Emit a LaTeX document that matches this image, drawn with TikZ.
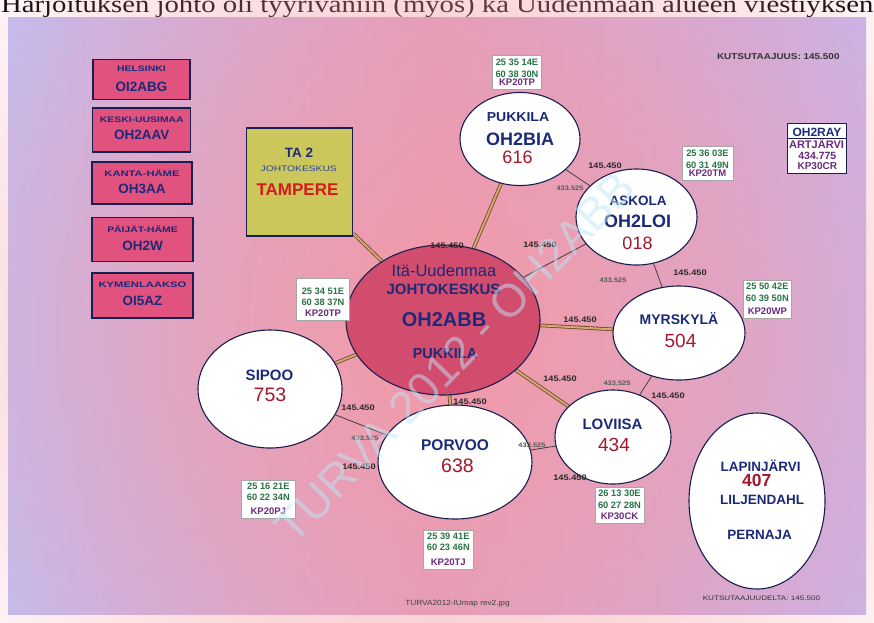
\documentclass[tikz,border=0pt]{standalone}
\usepackage{fontspec}
\setmainfont{Liberation Sans}
\newfontfamily\topserif{Liberation Serif}
\usetikzlibrary{shapes.geometric,fadings}
\pgfdeclarelayer{backdrop}
\pgfdeclarelayer{links}
\pgfsetlayers{backdrop,links,main}
\definecolor{navy}{HTML}{1B2A78}
\definecolor{bordernavy}{HTML}{1A1E4E}
\definecolor{boxpink}{HTML}{E2527E}
\definecolor{redpink}{HTML}{D24C6E}
\definecolor{olivebox}{HTML}{CBC75A}
\definecolor{tamred}{HTML}{D41C1C}
\definecolor{numred}{HTML}{A3182C}
\definecolor{coordgreen}{HTML}{2A7444}
\definecolor{kppurple}{HTML}{6A2A7E}
\definecolor{lavL}{HTML}{BEC0F7}
\definecolor{lavR}{HTML}{C6B6EE}
\definecolor{midpink}{HTML}{DDA0C6}
\definecolor{salmon}{HTML}{F59AA4}
\definecolor{linkbrown}{HTML}{6E4524}
\definecolor{linktan}{HTML}{D2AA78}
\definecolor{lbltext}{HTML}{2A2A2A}
\definecolor{wmark}{HTML}{BDE6F8}
\definecolor{subblue}{HTML}{2844A8}
\tikzfading[name=softfade, inner color=transparent!0, outer color=transparent!100]
\newcommand{\fs}[1]{\fontsize{#1}{#1}\selectfont}
\newcommand{\widen}[2]{\scalebox{#1}[1]{#2}}
\tikzset{
  region/.style={draw=bordernavy, line width=1.3pt, fill=boxpink, inner sep=0pt},
  regtitle/.style={anchor=base, inner sep=0pt, text=navy, font=\bfseries\fs{8}},
  regcall/.style={anchor=base, inner sep=0pt, text=navy, font=\bfseries\fs{13.5}},
  station/.style={ellipse, draw=bordernavy, line width=1.1pt, fill=white, inner sep=0pt},
  coordbox/.style={draw=gray!70, line width=0.6pt, fill=white, inner sep=0pt},
  cg/.style={anchor=base, inner sep=0pt, text=coordgreen, font=\bfseries\fs{9.3}},
  ck/.style={anchor=base, inner sep=0pt, text=kppurple, font=\bfseries\fs{9.5}},
  sname/.style={anchor=base, inner sep=0pt, text=navy, font=\bfseries\fs{14}},
  snum/.style={anchor=base, inner sep=0pt, text=numred, font=\fs{19}},
  mainlink/.style={draw=linkbrown, line width=0.8pt, double=linktan, double distance=2pt},
  thinlink/.style={draw=black!75, line width=0.8pt},
  freq/.style={anchor=base, inner sep=0pt, text=lbltext, font=\bfseries\fs{8}},
  uhf/.style={anchor=base, inner sep=0pt, text=black!65, font=\bfseries\fs{6.5}},
  plain/.style={anchor=base, inner sep=0pt}
}
% coordinate box: name, cx, top, w, h, line1, line2, line3, first baseline
\newcommand{\geo}[9]{%
  \node[coordbox, minimum width=#4pt, minimum height=#5pt] (#1) at (#2,{#3+#5/2}) {};
  \node[cg] (#1a) at (#2,#9) {#6};
  \node[cg] (#1b) at (#2,{#9+11.5}) {#7};
  \node[ck] (#1c) at (#2,{#3+#5-3.5}) {#8};
}
\begin{document}
\begin{tikzpicture}[x=1pt,y=-1pt]
\useasboundingbox (0,0) rectangle (874,622);
\begin{pgfonlayer}{backdrop}
\fill[white] (0,0) rectangle (874,622);
\node[anchor=base west, inner sep=0pt] (caption) at (1,12)
  {\topserif\fs{24}\resizebox{872pt}{\height}{Harjoituksen johto oli tyyrivaniin (myös) ka Uudenmaan alueen viestiyksen}};
\shade[left color=lavL, right color=lavR, middle color=midpink] (8,17) rectangle (866,614);
\fill[salmon, path fading=softfade, fill opacity=0.9] (440,330) ellipse (640 and 560);
\end{pgfonlayer}

% region boxes
\node[region, minimum width=97pt, minimum height=40pt] (hel) at (141.4,79.3) {};
\node[regtitle] (helA) at (141.4,71) {\widen{1.3}{HELSINKI}};
\node[regcall] (helB) at (141.4,91) {OI2ABG};
\node[region, minimum width=98pt, minimum height=44pt] (kes) at (141.8,130) {};
\node[regtitle] (kesA) at (141.8,122.7) {\widen{1.3}{KESKI-UUSIMAA}};
\node[regcall] (kesB) at (141.8,139) {OH2AAV};
\node[region, minimum width=100pt, minimum height=42pt] (kan) at (142,183) {};
\node[regtitle] (kanA) at (142,176.7) {\widen{1.4}{KANTA-HÄME}};
\node[regcall] (kanB) at (142,193.3) {OH3AA};
\node[region, minimum width=101pt, minimum height=44pt] (pai) at (142.5,239.8) {};
\node[regtitle] (paiA) at (142.5,232.7) {\widen{1.3}{PÄIJÄT-HÄME}};
\node[regcall] (paiB) at (142.5,250) {OH2W};
\node[region, minimum width=101pt, minimum height=45pt] (kym) at (142.5,295.5) {};
\node[regtitle] (kymA) at (142.5,287.7) {\widen{1.4}{KYMENLAAKSO}};
\node[regcall] (kymB) at (142.5,305) {OI5AZ};

% TA 2 box
\node[draw=bordernavy, line width=1.2pt, fill=olivebox, minimum width=106pt, minimum height=108pt, inner sep=0pt] (ta) at (299.7,182) {};
\node[plain, text=navy, font=\bfseries\fs{13.5}] (taA) at (299,157) {TA 2};
\node[plain, text=subblue, font=\fs{8}] (taB) at (298.7,171.7) {\widen{1.28}{JOHTOKESKUS}};
\node[plain, text=tamred, font=\bfseries\fs{17}] (taC) at (297.5,195) {TAMPERE};

% stations
\node[station, minimum width=120pt, minimum height=93pt] (pk) at (520,139) {};
\node[station, minimum width=121pt, minimum height=96pt] (ask) at (636.5,217) {};
\node[station, minimum width=132pt, minimum height=94pt] (myr) at (679,333) {};
\node[station, minimum width=116pt, minimum height=94pt] (lov) at (613,437) {};
\node[station, minimum width=154pt, minimum height=114pt] (por) at (455,462) {};
\node[station, minimum width=144pt, minimum height=118pt] (sip) at (270,389) {};
\node[station, minimum width=136pt, minimum height=176pt] (lap) at (757,501) {};
\node[ellipse, draw=bordernavy, line width=1.1pt, fill=redpink, inner sep=0pt, minimum width=194pt, minimum height=150pt] (cen) at (443,320) {};

% links
\begin{pgfonlayer}{links}
\draw[mainlink] (cen) -- (pk);
\draw[mainlink] (cen) -- (ta);
\draw[mainlink] (cen) -- (myr);
\draw[mainlink] (cen) -- (lov);
\draw[mainlink] (cen) -- (por);
\draw[mainlink] (cen) -- (sip);
\draw[thinlink] (cen) -- (ask);
\draw[thinlink] (pk) -- (ask);
\draw[thinlink] (ask) -- (myr);
\draw[thinlink] (myr) -- (lov);
\draw[thinlink] (lov) -- (por);
\draw[thinlink] (por) -- (sip);
\end{pgfonlayer}

% station texts
\node[sname, font=\bfseries\fs{13}] (pkA) at (518,121.7) {\widen{1.08}{PUKKILA}};
\node[sname, font=\bfseries\fs{18}] (pkB) at (520,145) {OH2BIA};
\node[snum, font=\fs{18}] (pkC) at (517.5,163.3) {616};

\node[sname, font=\bfseries\fs{13.5}] (askA) at (638,205) {ASKOLA};
\node[sname, font=\bfseries\fs{18}] (askB) at (637.5,227) {OH2LOI};
\node[snum, font=\fs{18}] (askC) at (637.5,249) {018};

\node[sname] (myrA) at (679,324) {MYRSKYLÄ};
\node[snum] (myrB) at (680.5,347) {504};

\node[sname, font=\bfseries\fs{15}] (lovA) at (612.5,429) {LOVIISA};
\node[snum] (lovB) at (614,451.5) {434};

\node[sname, font=\bfseries\fs{15.5}] (porA) at (455,450.5) {PORVOO};
\node[snum, font=\fs{19.5}] (porB) at (457.5,472) {638};

\node[sname, font=\bfseries\fs{15}] (sipA) at (269.5,380.5) {SIPOO};
\node[snum, font=\fs{19.5}] (sipB) at (270,401.5) {753};

\node[sname, font=\fs{16.5}] (cenA) at (444,276) {Itä-Uudenmaa};
\node[sname, font=\bfseries\fs{15}] (cenB) at (443.5,294) {JOHTOKESKUS};
\node[sname, font=\bfseries\fs{20}] (cenC) at (444,326) {OH2ABB};
\node[sname, font=\bfseries\fs{14.5}] (cenD) at (445,358) {PUKKILA};

\node[sname, font=\bfseries\fs{13.5}] (lapA) at (760.5,471) {LAPINJÄRVI};
\node[snum, font=\bfseries\fs{17.5}] (lapB) at (756.7,486.7) {407};
\node[sname, font=\bfseries\fs{13.5}] (lapC) at (762,504) {LILJENDAHL};
\node[sname, font=\bfseries\fs{13.5}] (lapD) at (759.5,539) {PERNAJA};

% coordinate boxes
\geo{gpk}{517}{55}{49}{34}{25 35 14E}{60 38 30N}{KP20TP}{65.7}
\geo{gask}{707.5}{146}{51}{34}{25 36 03E}{60 31 49N}{KP20TM}{156.5}
\geo{gcen}{323}{278.3}{52.6}{42}{25 34 51E}{60 38 37N}{KP20TP}{294}
\geo{gmyr}{767.3}{280.7}{48.7}{37.6}{25 50 42E}{60 39 50N}{KP20WP}{289.8}
\geo{gsip}{268.3}{480}{53.3}{38}{25 16 21E}{60 22 34N}{KP20PJ}{489.3}
\geo{gpor}{448.3}{530}{50}{39.3}{25 39 41E}{60 23 46N}{KP20TJ}{539.3}
\geo{glov}{619.5}{487.3}{49}{36}{26 13 30E}{60 27 28N}{KP30CK}{496.7}

% OH2RAY box
\node[draw=bordernavy, line width=1pt, fill=white, minimum width=59pt, minimum height=50pt, inner sep=0pt] (ray) at (816.5,148) {};
\draw[bordernavy, line width=0.8pt] (ray.north west) ++(0,16) coordinate (raysepL) -- ++(59,0) coordinate (raysepR);
\node[plain, text=navy, font=\bfseries\fs{12}] (rayA) at (817,136.5) {OH2RAY};
\node[plain, text=kppurple, font=\bfseries\fs{11}] (rayB) at (816.5,148.3) {ARTJÄRVI};
\node[plain, text=kppurple, font=\bfseries\fs{10.5}] (rayC) at (817.3,159) {434.775};
\node[plain, text=kppurple, font=\bfseries\fs{10}] (rayD) at (817.3,169.3) {KP30CR};

% frequency labels
\node[freq] (f1) at (447,248) {\widen{1.15}{145.450}};
\node[freq] (f2) at (605,168.3) {\widen{1.15}{145.450}};
\node[uhf] (u1) at (570,190) {\widen{1.15}{433.525}};
\node[freq] (f3) at (540,247) {\widen{1.15}{145.450}};
\node[uhf] (u2) at (613,282) {\widen{1.15}{433.525}};
\node[freq] (f4) at (690,275) {\widen{1.15}{145.450}};
\node[freq] (f5) at (580,322) {\widen{1.15}{145.450}};
\node[uhf] (u3) at (617,385) {\widen{1.15}{433.525}};
\node[freq] (f6) at (668,398) {\widen{1.15}{145.450}};
\node[freq] (f7) at (560,381) {\widen{1.15}{145.450}};
\node[uhf] (u4) at (532,447) {\widen{1.15}{433.525}};
\node[freq] (f8) at (570,480) {\widen{1.15}{145.450}};
\node[freq] (f9) at (470,404) {\widen{1.15}{145.450}};
\node[freq] (f10) at (358,410) {\widen{1.15}{145.450}};
\node[uhf] (u5) at (365,440) {\widen{1.15}{433.525}};
\node[freq] (f11) at (359,469) {\widen{1.15}{145.450}};

% other texts
\node[plain, text=black!80, font=\bfseries\fs{8.5}] (kutsu) at (778.3,59.3) {\widen{1.17}{KUTSUTAAJUUS: 145.500}};
\node[plain, text=black!80, font=\fs{6.5}] (kutsu2) at (761.5,600.7) {\widen{1.25}{KUTSUTAAJUUDELTA: 145.500}};
\node[plain, text=black!75, font=\fs{7.5}] (fname) at (457.5,605) {\widen{1.1}{TURVA2012-IUmap rev2.jpg}};

% watermark
\node[inner sep=0pt, rotate=46, text=wmark, text opacity=0.5, font=\fs{46}] (wm) at (455,357) {TURVA 2012 - OH2ABB};
\end{tikzpicture}
\end{document}
